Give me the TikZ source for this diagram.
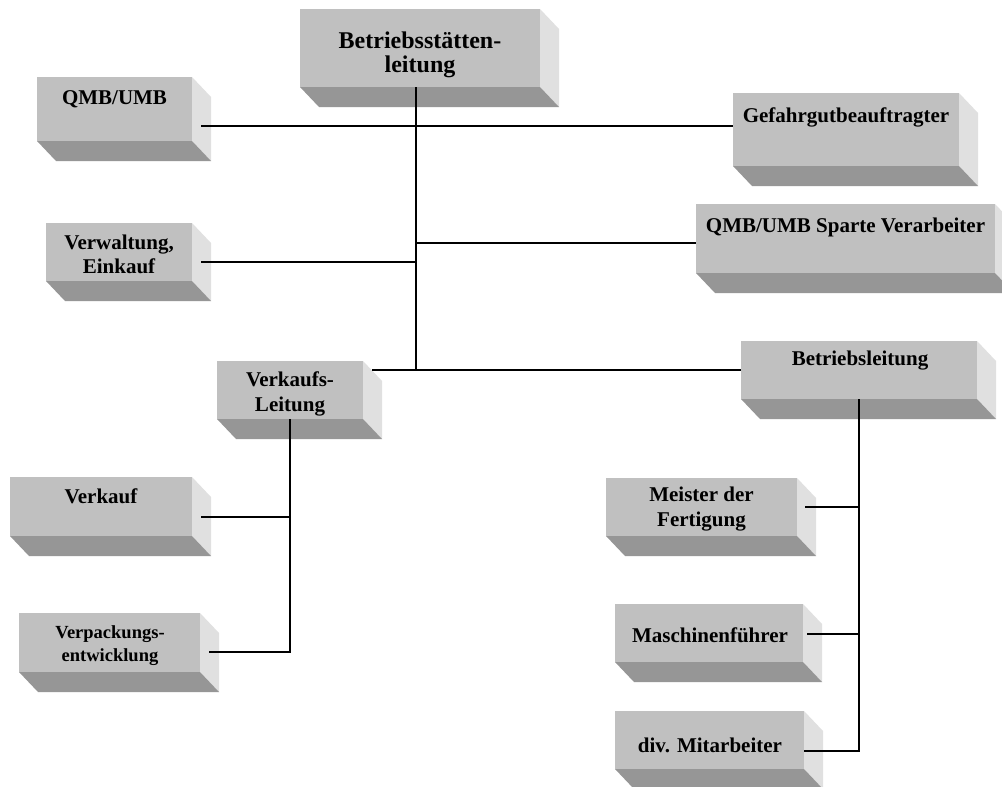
\documentclass[tikz,border=0pt]{standalone}
\usepackage{fontspec}
\setmainfont{Liberation Serif}
\usetikzlibrary{fit}
\definecolor{frontgray}{RGB}{192,192,192}
\definecolor{sidegray}{RGB}{224,224,224}
\definecolor{botgray}{RGB}{150,150,150}
\tikzset{
  front/.style={fill=frontgray, draw=none, inner sep=0pt},
  lbl/.style={align=center, inner sep=0pt, anchor=north,
    font=\bfseries\fontsize{21}{24}\selectfont,
    execute at begin node={\rule{0pt}{15pt}}},
  lblbig/.style={align=center, inner sep=0pt, anchor=north,
    font=\bfseries\fontsize{24}{24}\selectfont,
    execute at begin node={\rule{0pt}{17pt}}},
  lblsmall/.style={align=center, inner sep=0pt, anchor=north,
    font=\bfseries\fontsize{18.5}{23}\selectfont,
    execute at begin node={\rule{0pt}{13pt}}},
  conn/.style={draw=black, line width=1.1pt},
}
% name, x1, y1, x2, y2 (front face, y downwards)
\newcommand\bevbox[5]{%
  \fill[sidegray] (#4,#3) -- (#4+19,#3+20) -- (#4+19,#5+20) -- (#4,#5) -- cycle;
  \fill[botgray] (#2,#5) -- (#4,#5) -- (#4+19,#5+20) -- (#2+19,#5+20) -- cycle;
  \node[front, fit={(#2,#3) (#4,#5)}] (#1) {};
}
\begin{document}
\begin{tikzpicture}[x=1pt, y=-1pt]
\useasboundingbox[fill=white] (0,0) rectangle (1002,787);

% boxes
\bevbox{top}{300}{9}{540}{87}
\bevbox{qmb}{37}{77}{192}{141}
\bevbox{gef}{733}{93}{959}{166}
\bevbox{spa}{696}{204}{995}{273}
\bevbox{verw}{46}{223}{192}{281}
\bevbox{vkl}{217}{361}{363}{419}
\bevbox{bl}{741}{341}{977}{399}
\bevbox{vk}{10}{477}{192}{536}
\bevbox{vp}{19}{613}{200}{672}
\bevbox{mst}{606}{478}{797}{536}
\bevbox{msch}{615}{604}{803}{662}
\bevbox{div}{615}{711}{804}{769}

% texts
\node[lblbig] (top-t) at (420,32) {Betriebsstätten-\\leitung};
\node[lbl] (qmb-t) at (114.5,89) {QMB/UMB};
\node[lbl] (gef-t) at (846,107) {Gefahrgutbeauftragter};
\node[lbl] (spa-t) at (845.5,217) {QMB/UMB Sparte Verarbeiter};
\node[lbl] (verw-t) at (119,235) {Verwaltung,\\Einkauf};
\node[lbl, font=\bfseries\fontsize{21}{25}\selectfont] (vkl-t) at (290,372) {Verkaufs-\\Leitung};
\node[lbl] (bl-t) at (860,350) {Betriebsleitung};
\node[lbl] (vk-t) at (101,488) {Verkauf};
\node[lblsmall] (vp-t) at (110,625) {Verpackungs-\\entwicklung};
\node[lbl, font=\bfseries\fontsize{21}{25}\selectfont] (mst-t) at (701.5,487) {Meister der\\Fertigung};
\node[lbl] (msch-t) at (710,627) {Maschinenführer};
\node[lbl] (div-t) at (710,737) {div. Mitarbeiter};

% connectors
\coordinate (tt) at (416,87);
\coordinate (tr) at (416,370);
\draw[conn] (tt) -- (tr);
\draw[conn] ([shift={(9,17)}]qmb.east) coordinate (c1) -- (c1 -| gef.west);
\draw[conn] ([shift={(0,4.5)}]spa.west) coordinate (c2) -- (c2 -| tr);
\draw[conn] ([shift={(9,10)}]verw.east) coordinate (c3) -- (c3 -| tr);
\draw[conn] (bl.west) -- ([shift={(9,-20)}]vkl.east);
\draw[conn] (bl.south) |- ([shift={(0,11)}]div.east);
\draw[conn] ([shift={(8,0)}]mst.east) coordinate (c4) -- (c4 -| bl.south);
\draw[conn] ([shift={(4,1)}]msch.east) coordinate (c5) -- (c5 -| bl.south);
\draw[conn] (vkl.south) |- ([shift={(9,9.5)}]vp.east);
\draw[conn] ([shift={(9,10.5)}]vk.east) coordinate (c6) -- (c6 -| vkl.south);
\end{tikzpicture}
\end{document}
